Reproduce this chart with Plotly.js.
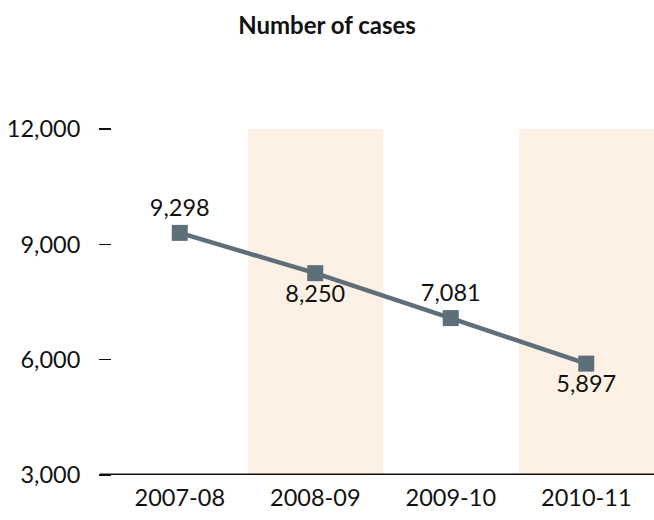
<!DOCTYPE html>
<html>
<head>
<meta charset="utf-8">
<script src="https://cdn.plot.ly/plotly-3.0.1.min.js"></script>
<style>html,body{margin:0;padding:0;background:#fff;}#chart{width:654px;height:520px;}</style>
</head>
<body>
<div id="chart"></div>
<script>
const categories = ["2007-08", "2008-09", "2009-10", "2010-11"];
const cases = [9298, 8250, 7081, 5897];
const labelPositions = ["top center", "bottom center", "top center", "bottom center"];
const shadedCategories = ["2008-09", "2010-11"];
const shadedTop = [12000, 12000];
const yTicks = [3000, 6000, 9000, 12000];
const yTickLabels = ["3,000", "6,000", "9,000", "12,000"];

const FONT = "Lato, 'Open Sans', sans-serif";

const bands = {
  type: "bar",
  x: shadedCategories,
  y: shadedTop,
  marker: {color: "#fdf0e4", line: {width: 0}},
  width: 1,
  hoverinfo: "skip",
  showlegend: false
};

const line = {
  type: "scatter",
  mode: "lines+markers+text",
  x: categories,
  y: cases,
  text: cases.map(v => v.toLocaleString("en-US")),
  textposition: labelPositions,
  textfont: {family: FONT, size: 23.5, color: "#111"},
  line: {color: "#5e6f79", width: 4.5},
  marker: {symbol: "square", size: 16, color: "#5e6f79"},
  cliponaxis: false,
  showlegend: false
};

const layout = {
  width: 654,
  height: 520,
  margin: {l: 112, r: 0, t: 129, b: 45},
  paper_bgcolor: "#fff",
  plot_bgcolor: "#fff",
  font: {family: FONT, size: 23.5, color: "#111"},
  title: {
    text: "<b>Number of cases</b>",
    font: {family: FONT, size: 24, color: "#111"},
    x: 0.5, xref: "container", xanchor: "center",
    y: 1 - 26/520, yref: "container", yanchor: "middle"
  },
  bargap: 0,
  xaxis: {
    type: "category",
    categoryorder: "array",
    categoryarray: categories,
    range: [-0.5, 3.5],
    showgrid: false,
    zeroline: false,
    showline: false,
    ticks: "",
    tickfont: {family: FONT, size: 23.5, color: "#111"},
    ticklabelstandoff: 6,
    fixedrange: true
  },
  yaxis: {
    range: [3000, 12000],
    tickvals: yTicks,
    ticktext: yTickLabels,
    showgrid: false,
    zeroline: false,
    showline: false,
    ticks: "outside",
    ticklen: 12,
    tickwidth: 1.5,
    tickcolor: "#111",
    ticklabelstandoff: 14,
    tickfont: {family: FONT, size: 23.5, color: "#111"},
    fixedrange: true
  },
  shapes: [{
    type: "line",
    xref: "paper", yref: "y",
    x0: -12/542, x1: 1, y0: 3000, y1: 3000,
    line: {color: "#111", width: 3},
    layer: "above"
  }]
};

Plotly.newPlot("chart", [bands, line], layout, {displayModeBar: false, staticPlot: true});
</script>
</body>
</html>
